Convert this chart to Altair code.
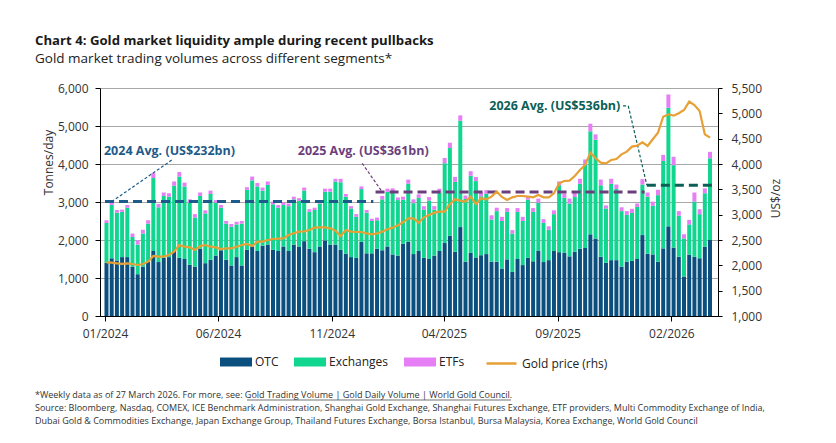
import altair as alt
import pandas as pd

FONT = "Open Sans"

# ---------------- data ----------------
weeks = pd.date_range("2024-01-03", periods=117, freq="7D").strftime("%Y-%m-%d").tolist()

otc = [1400, 1520, 1460, 1550, 1550, 1300, 1100, 1300, 1420, 1710,
       1420, 1530, 1550, 1710, 1530, 1500, 1350, 1300, 1770, 1390,
       1480, 1590, 1730, 1480, 1330, 1550, 1330, 1740, 1830, 1710,
       1850, 1880, 1740, 1710, 1830, 1710, 1880, 1830, 1970, 1770,
       1680, 1830, 1990, 1880, 1880, 1740, 1640, 1550, 1530, 1950,
       1650, 1650, 1770, 1730, 1830, 1620, 1590, 1900, 1950, 1630,
       1710, 1530, 1500, 1590, 1710, 1920, 2110, 1690, 2340, 1430,
       1660, 1540, 1600, 1630, 1430, 1430, 1250, 1490, 1160, 1500,
       1340, 1530, 1440, 1710, 1420, 1470, 1710, 1680, 1660, 1570,
       1690, 1770, 1790, 2150, 2040, 1560, 1400, 1470, 1470, 1300,
       1430, 1450, 1500, 2130, 1640, 1620, 1430, 1780, 2360, 1800,
       1560, 1040, 1610, 1560, 1520, 1820, 2000]

exchanges = [1050, 1400, 1260, 1190, 1300, 780, 780, 870, 1010, 1920,
             1440, 1630, 1590, 1720, 2140, 1910, 1630, 1290, 1390, 1310,
             1730, 1390, 1120, 950, 1020, 860, 1100, 1580, 1740, 1700,
             1450, 1570, 1200, 1140, 1090, 1180, 1190, 1200, 1330, 970,
             1110, 1130, 1280, 1390, 1660, 1780, 1500, 1280, 1080, 1390,
             1070, 850, 750, 1340, 1440, 1650, 1460, 1160, 1530, 1340,
             1400, 1270, 1540, 1210, 1540, 2100, 2310, 1840, 2800, 1650,
             2030, 2010, 1550, 1590, 1110, 1330, 1250, 1250, 1010, 1240,
             1160, 1530, 1300, 1270, 1030, 800, 970, 1760, 1450, 1390,
             1440, 1710, 2190, 2710, 2600, 1880, 1430, 2010, 1870, 1460,
             1230, 1260, 1370, 1330, 1500, 1280, 1750, 2300, 3120, 2170,
             1080, 1000, 800, 1450, 1160, 1410, 2150]

etfs = [70, 70, 70, 60, 70, 90, 110, 100, 90, 130,
        90, 90, 90, 110, 120, 100, 90, 90, 90, 80,
        90, 70, 70, 70, 70, 70, 70, 70, 100, 90,
        80, 90, 70, 70, 70, 70, 70, 70, 80, 70,
        60, 70, 80, 80, 70, 90, 70, 60, 70, 70,
        70, 60, 70, 90, 80, 90, 70, 80, 110, 100,
        90, 90, 90, 90, 100, 140, 140, 130, 140, 90,
        120, 110, 100, 90, 110, 90, 110, 100, 90, 100,
        110, 90, 100, 110, 100, 90, 100, 100, 110, 130,
        130, 130, 140, 200, 140, 150, 80, 130, 120, 100,
        100, 110, 90, 140, 110, 110, 140, 160, 350, 220,
        120, 110, 120, 240, 130, 130, 170]

gold = [2060, 2053, 2040, 2027, 2040, 2027, 2007, 2027, 2072, 2184,
        2171, 2171, 2204, 2270, 2401, 2368, 2355, 2303, 2381, 2401,
        2368, 2355, 2322, 2335, 2335, 2368, 2401, 2421, 2381, 2467,
        2467, 2500, 2520, 2526, 2533, 2599, 2632, 2665, 2670, 2698,
        2744, 2750, 2750, 2731, 2685, 2579, 2698, 2665, 2658, 2658,
        2632, 2612, 2632, 2665, 2711, 2744, 2790, 2850, 2928, 2928,
        2842, 2948, 2994, 3040, 3060, 3060, 3211, 3303, 3277, 3257,
        3356, 3211, 3323, 3303, 3356, 3454, 3350, 3290, 3342, 3368,
        3368, 3355, 3342, 3388, 3342, 3342, 3421, 3619, 3665, 3671,
        3763, 3882, 3981, 4224, 4112, 4026, 4013, 4079, 4099, 4191,
        4244, 4343, 4362, 4428, 4356, 4488, 4618, 4934, 4981, 4954,
        5001, 5066, 5231, 5165, 5047, 4586, 4520]

segments = ["OTC", "Exchanges", "ETFs"]
seg_colors = ["#0B4F7F", "#10D68F", "#E67FF5"]
gold_name = "Gold price (rhs)"
gold_color = "#E6A035"

avg_years = ["2024", "2025", "2026"]
avg_start = ["2024-01-01", "2024-12-30", "2025-12-30"]
avg_end = ["2024-12-27", "2025-12-27", "2026-03-29"]
avg_value = [3010, 3260, 3440]
avg_labels = ["2024 Avg. (US$232bn)", "2025 Avg. (US$361bn)", "2026 Avg. (US$536bn)"]
avg_colors = ["#1D5B8A", "#6B3F7E", "#0C5F57"]

x_ticks = ["2024-01-01", "2024-06-01", "2024-11-01", "2025-04-01", "2025-09-01", "2026-02-01"]

title_text = "Chart 4: Gold market liquidity ample during recent pullbacks"
subtitle_text = "Gold market trading volumes across different segments*"
foot_lines = [
    "*Weekly data as of 27 March 2026. For more, see:  Gold Trading Volume | Gold Daily Volume | World Gold Council.",
    "Source:  Bloomberg, Nasdaq, COMEX, ICE Benchmark Administration, Shanghai Gold Exchange, Shanghai Futures Exchange, ETF providers, Multi Commodity Exchange of India,",
    "Dubai Gold & Commodities Exchange, Japan Exchange Group, Thailand Futures Exchange, Borsa Istanbul, Bursa Malaysia, Korea Exchange, World Gold Council",
]

# ---------------- tables ----------------
rows = []
for i, w in enumerate(weeks):
    for j, (s, arr) in enumerate(zip(segments, [otc, exchanges, etfs])):
        rows.append({"week": w, "segment": s, "order": j, "tonnes": arr[i]})
bar_df = pd.DataFrame(rows)
gold_df = pd.DataFrame({"week": weeks, "gold": gold, "name": gold_name})
avg_df = pd.DataFrame({"year": avg_years, "start": avg_start, "end": avg_end, "value": avg_value})
one = pd.DataFrame({"k": [0]})


def dt(s):
    y, m, d = (int(p) for p in s.split("-"))
    return alt.DateTime(year=y, month=m, date=d, utc=True)


W, H = 618, 228

xscale = alt.Scale(type="utc", domain=[dt("2024-01-01"), dt("2026-03-29")])
yscale_l = alt.Scale(domain=[0, 6000], nice=False)
yscale_r = alt.Scale(domain=[1000, 5500], nice=False, zero=False)

xaxis = alt.Axis(values=[dt(s) for s in x_ticks],
                 labelExpr="utcFormat(datum.value, '%m/%Y')",
                 title=None, grid=False, tickSize=5, labelPadding=7, labelFontSize=12,
                 labelColor="#333333", domainColor="#000000", tickColor="#000000",
                 labelOverlap=False, labelFlush=False)

yaxis_l = alt.Axis(values=list(range(0, 6001, 1000)), format=",.0f", title="Tonnes/day",
                   titleX=-52, titleY=74, titleAngle=270, titleAlign="center",
                   titleBaseline="middle", titleFontWeight="normal", titleFontSize=12,
                   titleColor="#333333", grid=True, gridColor="#A8A8A8", gridWidth=1,
                   tickSize=5, labelPadding=7, labelFontSize=12, labelColor="#333333",
                   domainColor="#000000", tickColor="#000000", labelOverlap=False)

yaxis_r = alt.Axis(orient="right", values=list(range(1000, 5501, 500)), format=",.0f",
                   title="US$/oz", titleX=57, titleY=110, titleAngle=270,
                   titleAlign="center", titleBaseline="middle", titleFontWeight="normal",
                   titleFontSize=12, titleColor="#333333", grid=False, tickSize=4,
                   labelPadding=9, labelFontSize=12, labelColor="#333333",
                   domainColor="#000000", tickColor="#000000", labelOverlap=False)

rect_path = "M-1,-0.28L1,-0.28L1,0.28L-1,0.28Z"

bars = alt.Chart(bar_df).mark_bar(size=4).encode(
    x=alt.X("week:T", scale=xscale, axis=xaxis),
    y=alt.Y("tonnes:Q", stack="zero", scale=yscale_l, axis=yaxis_l),
    color=alt.Color("segment:N", scale=alt.Scale(domain=segments, range=seg_colors),
                    legend=alt.Legend(orient="none", legendX=120, legendY=258,
                                      direction="horizontal", title=None,
                                      symbolType=rect_path, symbolSize=1024,
                                      symbolStrokeWidth=0, labelOffset=3,
                                      columnPadding=15, padding=0,
                                      labelFontSize=12, labelColor="#222222",
                                      labelFont=FONT)),
    order=alt.Order("order:Q", sort="ascending"),
)

layers = [bars]

for i, yr in enumerate(avg_years):
    layers.append(
        alt.Chart(avg_df[avg_df["year"] == yr]).mark_rule(
            color=avg_colors[i], strokeWidth=3, strokeDash=[9, 5]
        ).encode(x=alt.X("start:T", scale=xscale, axis=xaxis), x2="end:T",
                 y=alt.Y("value:Q", scale=yscale_l, axis=yaxis_l))
    )

# annotation labels and leader lines
label_pos = [("2024-01-05", 4350, -4), ("2024-09-19", 4350, -2), ("2025-06-01", 5530, 0)]
for i, (d, v, shift) in enumerate(label_pos):
    layers.append(
        alt.Chart(one).mark_text(text=avg_labels[i], align="left", baseline="middle",
                                 fontSize=12.5, fontWeight="bold", color=avg_colors[i],
                                 font=FONT, dx=shift)
        .encode(x=alt.XDatum(dt(d), scale=xscale, axis=xaxis),
                y=alt.YDatum(v, scale=yscale_l, axis=yaxis_l))
    )

leaders = [
    (0, "2024-01-10", 3010, "2024-03-31", 4105),
    (1, "2024-12-12", 4018, "2025-01-08", 3265),
    (2, "2025-11-28", 5530, "2025-12-05", 5530),
    (2, "2025-12-05", 5530, "2025-12-30", 3445),
]
for c, d1, v1, d2, v2 in leaders:
    layers.append(
        alt.Chart(one).mark_rule(color=avg_colors[c], strokeWidth=1.2, strokeDash=[3, 2])
        .encode(x=alt.XDatum(dt(d1), scale=xscale, axis=xaxis),
                y=alt.YDatum(v1, scale=yscale_l, axis=yaxis_l),
                x2=alt.X2Datum(dt(d2)), y2=alt.Y2Datum(v2))
    )


def free_text(text, x, y, size, weight="normal", color="#222222"):
    return alt.Chart(one).mark_text(text=text, align="left", baseline="alphabetic",
                                    fontSize=size, fontWeight=weight, color=color,
                                    font=FONT).encode(x=alt.value(x), y=alt.value(y))


layers.append(free_text(title_text, -65, -43, 13.2, "bold", "#1a1a1a"))
layers.append(free_text(subtitle_text, -65, -25, 13.5, "normal", "#222222"))
for k, line in enumerate(foot_lines):
    layers.append(free_text(line, -65, 310 + 13 * k, 9, "normal", "#333333"))

# underline of the linked text in the first footnote
layers.append(
    alt.Chart(one).mark_rule(color="#333333", strokeWidth=0.7)
    .encode(x=alt.value(147), x2=alt.value(411), y=alt.value(312))
)

inner = alt.layer(*layers)

line = alt.Chart(gold_df).mark_line(strokeWidth=2.2).encode(
    x=alt.X("week:T", scale=xscale, axis=xaxis),
    y=alt.Y("gold:Q", scale=yscale_r, axis=yaxis_r),
    stroke=alt.Stroke("name:N", scale=alt.Scale(domain=[gold_name], range=[gold_color]),
                      legend=alt.Legend(orient="none", legendX=385, legendY=259,
                                        direction="horizontal", title=None,
                                        symbolType="stroke", symbolSize=900,
                                        symbolStrokeWidth=2.5, labelOffset=4, padding=0,
                                        labelFontSize=12, labelColor="#222222",
                                        labelFont=FONT)),
)

chart = alt.layer(inner, line).resolve_scale(y="independent").properties(
    width=W, height=H,
    padding={"left": 92, "top": 80, "right": 110, "bottom": 119},
    autosize=alt.AutoSizeParams(type="none"),
    background="white",
).configure_view(stroke=None).configure_axis(labelFont=FONT, titleFont=FONT).configure_text(font=FONT)

chart.save("out.html", embed_options={"renderer": "svg", "actions": False})
